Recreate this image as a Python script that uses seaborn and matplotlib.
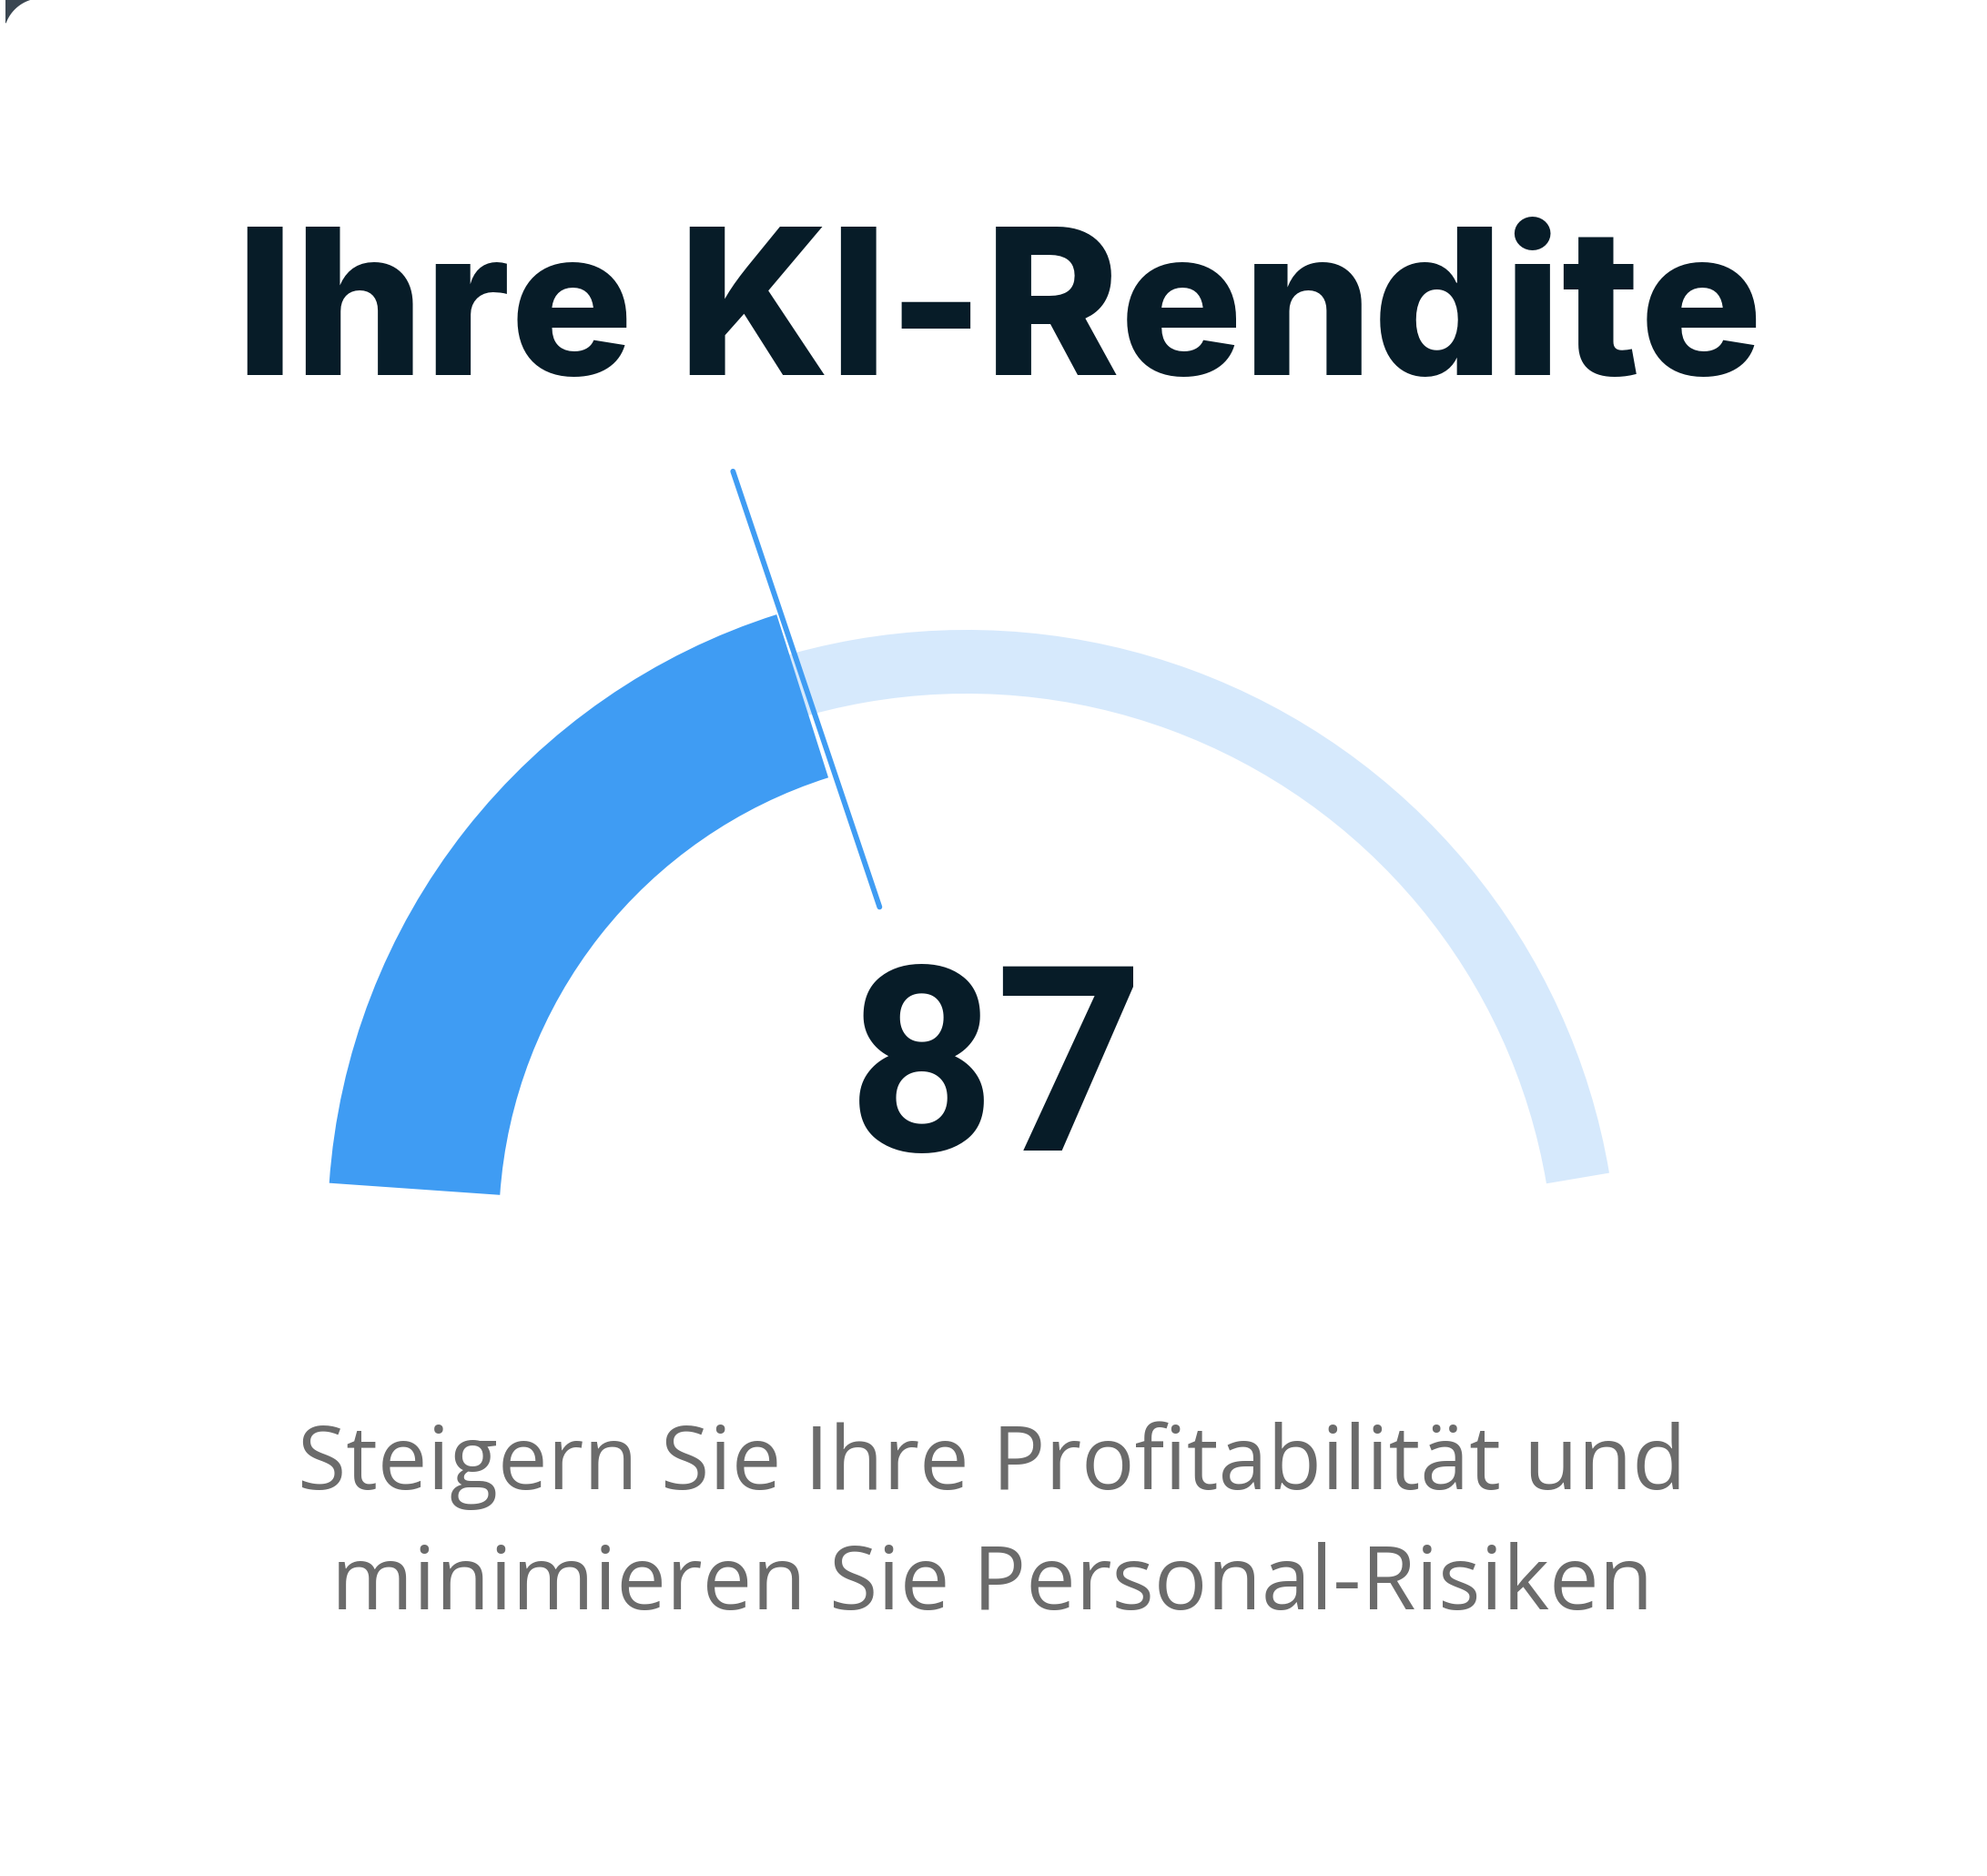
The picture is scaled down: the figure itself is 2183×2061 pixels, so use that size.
import numpy as np
import matplotlib
matplotlib.use("Agg")
import matplotlib.pyplot as plt
from matplotlib.patches import Wedge, Polygon
import seaborn as sns

# chart content
title = "Ihre KI-Rendite"
score = [87]
gauge_fill = [0.40]   # share of the track covered by the blue arc
subtitle_lines = ["Steigern Sie Ihre Profitabilität und",
                  "minimieren Sie Personal-Risiken"]

W, H = 2183, 2061
BLUE = "#3f9cf3"
TRACK = "#d6e9fc"
DARK = "#071c28"
GREY = "#6b6b6b"

# gauge geometry (pixel units, y up)
start_deg, end_deg = 176.0, 5.0
fill_center = (1067, H - 1349)
track_center = (1062, H - 1408)
pivot = (1085, H - 1349)


def set_plt_params():
    sns.set_theme(style="white")
    plt.rcParams['font.family'] = ['Inter', 'DejaVu Sans']


def gauge(ax):
    fill_deg = start_deg - gauge_fill[0] * (start_deg - end_deg)
    # background track
    ax.add_patch(Wedge(track_center, 716, 9.6, 130, width=70,
                       facecolor=TRACK, edgecolor="none", zorder=1))
    # filled part
    ax.add_patch(Wedge(fill_center, 707, fill_deg, start_deg, width=188,
                       facecolor=BLUE, edgecolor="none", zorder=2))
    # needle
    a = np.deg2rad(fill_deg + 1.0)
    r = np.array([372, 877])
    sns.lineplot(x=pivot[0] + r * np.cos(a), y=pivot[1] + r * np.sin(a),
                 sort=False, ax=ax, color=BLUE, lw=4.2, zorder=3)


if __name__ == '__main__':
    set_plt_params()
    fig = plt.figure(figsize=(W / 100, H / 100), dpi=100)
    ax = fig.add_axes([0, 0, 1, 1])
    ax.set_xlim(0, W)
    ax.set_ylim(0, H)
    ax.axis("off")

    # dark corner outside the rounded card
    t = np.linspace(np.deg2rad(105), np.deg2rad(160), 20)
    arc = np.c_[46 + 42 * np.cos(t), 2021 + 42 * np.sin(t)]
    ax.add_patch(Polygon(np.vstack([[[6, H], [35, H]], arc, [[6, 2036]]]),
                         facecolor="#3a4651", edgecolor="none", zorder=0))

    gauge(ax)

    ax.text(1098, H - 412, title, ha="center", va="baseline",
            fontsize=162, fontweight="heavy", color=DARK)
    ax.text(1094, H - 1264, str(score[0]), ha="center", va="baseline",
            fontsize=205, fontweight="bold", color=DARK, zorder=4,
            family=['Roboto', 'DejaVu Sans'])
    for i, line in enumerate(subtitle_lines):
        ax.text(1090, H - 1636 - i * 132, line, ha="center", va="baseline",
                fontsize=70, color=GREY, family=['Open Sans', 'DejaVu Sans'])

    fig.savefig("out.png", dpi=100)
